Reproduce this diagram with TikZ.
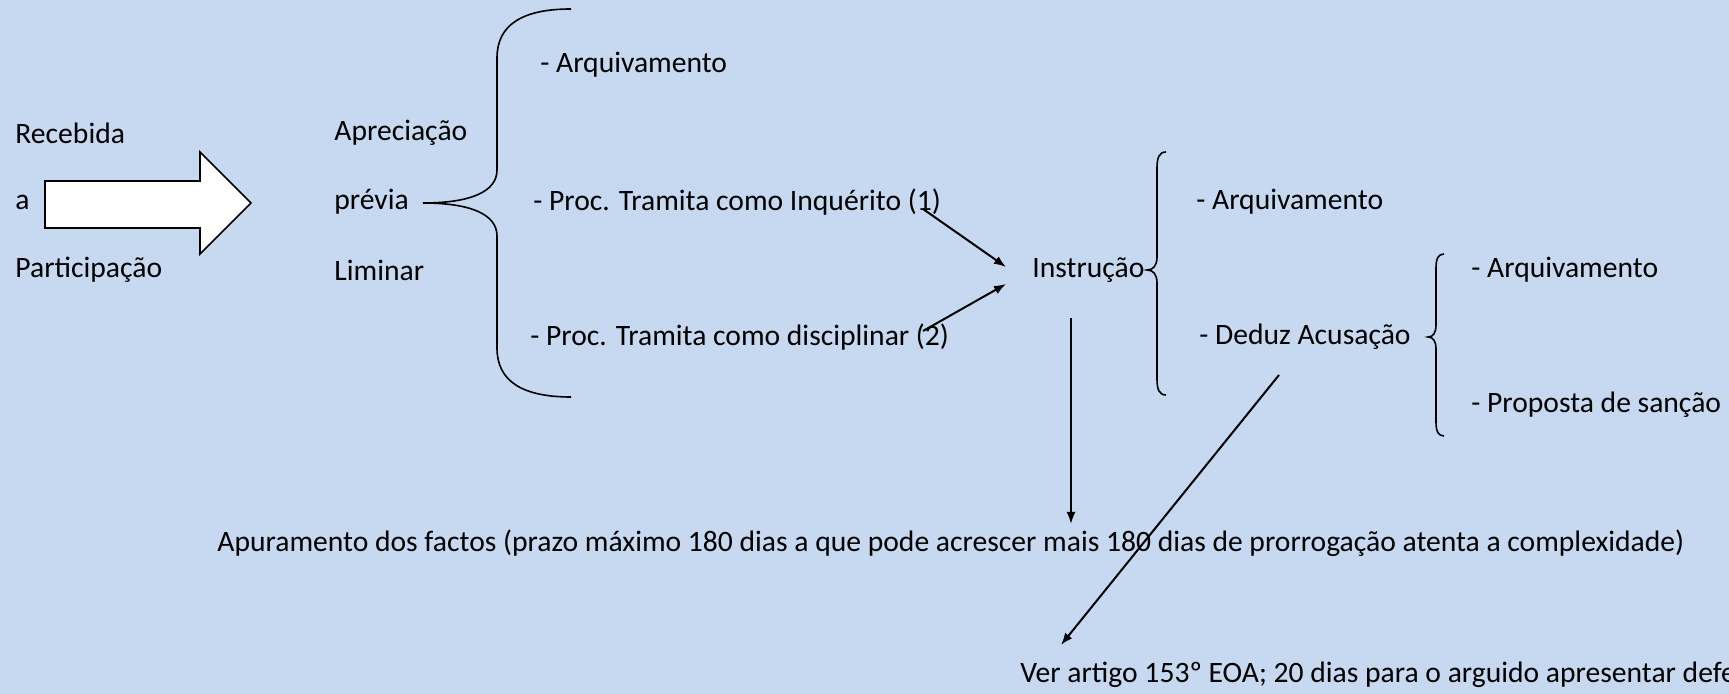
\documentclass[tikz,border=0pt]{standalone}
\usepackage{fontspec}
\setmainfont{Carlito}
\usetikzlibrary{arrows.meta}
\definecolor{bgblue}{RGB}{198,217,241}

\begin{document}
\begin{tikzpicture}[x = 0.5pt, y = -0.5pt,
    every node/.style = {anchor = west, inner sep = 0pt, font = \fontsize{14.8}{17}\selectfont},
    curly/.style = {draw, line width = 0.8pt},
    link/.style = {draw, line width = 1pt, -{Latex[length = 6pt, width = 4.5pt]}}]
        \useasboundingbox (0,0) rectangle (1729,694);
        \fill[bgblue] (0,0) rectangle (1729,694);
        \clip (0,0) rectangle (1729,694);
        % left column
        \node (rec) at (15,133) {Recebida};
        \node (a) at (15,202) {a};
        \node (part) at (15,270) {Participação};
        \draw[line width = 0.8pt, fill = white] (45,181) -- (200,181) -- (200,152) -- (251,203)
            -- (200,254) -- (200,228) -- (45,228) -- cycle;
        \node (apr) at (334,133) {Apreciação};
        \node (prev) at (334,202) {prévia};
        \node (lim) at (334,270) {Liminar};
        % first brace
        \draw[curly] (571,9) .. controls (522,9) and (497,25) .. (497,58) -- (497,170)
            .. controls (497,192) and (470,203) .. (423,203)
            .. controls (470,203) and (497,214) .. (497,236) -- (497,348)
            .. controls (497,381) and (522,397) .. (571,397);
        \node (arq1) at (540,65) {- Arquivamento};
        \node (inq) at (533,202) {- Proc. Tramita como Inquérito (1)};
        \node (disc) at (530,337) {- Proc. Tramita como disciplinar (2)};
        \node (instr) at (1032,270) {Instrução};
        % second brace
        \draw[curly] (1166,152) .. controls (1159,152) and (1157,158) .. (1157,168) -- (1157,257)
            .. controls (1157,266) and (1153,270) .. (1147,270)
            .. controls (1153,270) and (1157,274) .. (1157,283) -- (1157,379)
            .. controls (1157,389) and (1159,395) .. (1166,395);
        \node (arq2) at (1196,202) {- Arquivamento};
        \node (ded) at (1199,337) {- Deduz Acusação};
        % third brace
        \draw[curly] (1444,254) .. controls (1438,254) and (1436,259) .. (1436,268) -- (1436,325)
            .. controls (1436,333) and (1433,337) .. (1428,337)
            .. controls (1433,337) and (1436,341) .. (1436,349) -- (1436,422)
            .. controls (1436,431) and (1438,436) .. (1444,436);
        \node (arq3) at (1471,270) {- Arquivamento};
        \node (prop) at (1471,405) {- Proposta de sanção};
        \node (apur) at (217,543) {Apuramento dos factos (prazo máximo 180 dias a que pode acrescer mais 180 dias de prorrogação atenta a complexidade)};
        \node (ver) at (1020,675) {Ver artigo 153º EOA; 20 dias para o arguido apresentar defesa};
        % connectors
        \coordinate (inqEnd) at (923,209);
        \coordinate (discEnd) at (923,331);
        \coordinate (instrIn1) at (1006,267);
        \coordinate (instrIn2) at (1006,284);
        \coordinate (instrOut) at (1071,318);
        \coordinate (apurIn) at (1071,524);
        \coordinate (dedOut) at (1279,375);
        \coordinate (verIn) at (1061,645);
        \draw[link] (inqEnd) -- (instrIn1);
        \draw[link] (discEnd) -- (instrIn2);
        \draw[link] (instrOut) -- (apurIn);
        \draw[link] (dedOut) -- (verIn);
\end{tikzpicture}
\end{document}
